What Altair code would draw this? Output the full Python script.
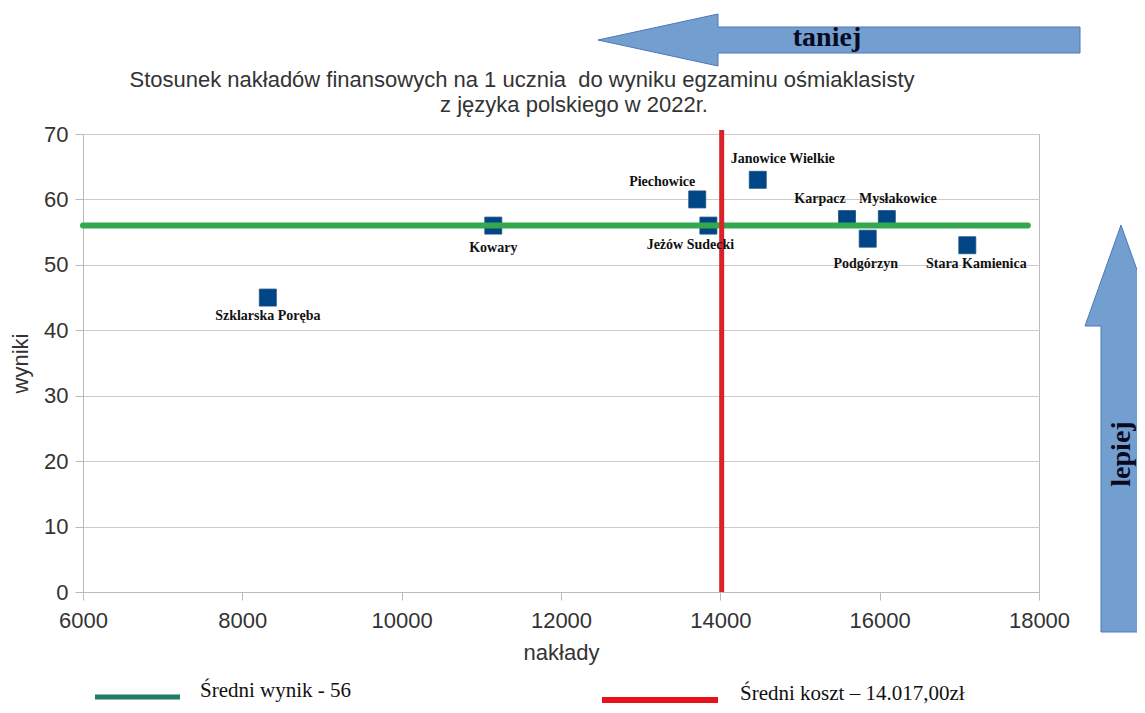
import altair as alt
import pandas as pd

# ---- data ----
gminy = ["Szklarska Poręba", "Kowary", "Piechowice", "Jeżów Sudecki", "Janowice Wielkie",
         "Karpacz", "Mysłakowice", "Podgórzyn", "Stara Kamienica"]
naklady = [8320, 11150, 13710, 13850, 14470, 15590, 16090, 15850, 17100]
wyniki = [45, 56, 60, 56, 63, 57, 57, 54, 53]

sredni_wynik = 56
sredni_koszt = 14017
x_ticks = [6000, 8000, 10000, 12000, 14000, 16000, 18000]
y_ticks = [0, 10, 20, 30, 40, 50, 60, 70]

title_lines = ["Stosunek nakładów finansowych na 1 ucznia\u00a0 do wyniku egzaminu ośmiaklasisty",
               "z języka polskiego w 2022r."]
legend_texts = ["Średni wynik - 56", "Średni koszt – 14.017,00zł"]

df = pd.DataFrame({"gmina": gminy, "naklady": naklady, "wyniki": wyniki})

# ---- layout / style (not data) ----
label_offsets = {
    "Szklarska Poręba": (0, 18), "Kowary": (0, 22), "Piechowice": (-35, -17),
    "Jeżów Sudecki": (-18, 19), "Janowice Wielkie": (25, -21), "Karpacz": (-27, -20),
    "Mysłakowice": (11, -20), "Podgórzyn": (-2, 25), "Stara Kamienica": (9, 19),
}
PW, PH = 956, 458
sans = "Liberation Sans"
serif = "Liberation Serif"
FS = 22

xscale = alt.Scale(domain=[6000, 18000], nice=False, zero=False)
yscale = alt.Scale(domain=[0, 70], nice=False)

xenc = alt.X("naklady:Q", scale=xscale,
             axis=alt.Axis(title="nakłady", values=x_ticks, grid=False, format="d",
                           labelFontSize=FS, labelFont=sans, labelColor="#333",
                           titleFontSize=FS, titleFont=sans, titleColor="#333",
                           titleFontWeight="normal", titlePadding=11,
                           domainColor="#bbb", tickColor="#bbb", tickSize=8,
                           labelPadding=10, labelFlush=False))
yenc = alt.Y("wyniki:Q", scale=yscale,
             axis=alt.Axis(title="wyniki", values=y_ticks, grid=True, gridColor="#cccccc",
                           labelFontSize=FS, labelFont=sans, labelColor="#333",
                           titleFontSize=FS, titleFont=sans, titleColor="#333",
                           titleFontWeight="normal", titlePadding=11,
                           domainColor="#bbb", tickColor="#bbb", tickSize=8,
                           labelPadding=7))

base = alt.Chart(df)

green = alt.Chart(pd.DataFrame({"x": [6000], "x2": [17860], "y": [sredni_wynik]})).mark_rule(
    color="#33a84e", strokeWidth=6, strokeCap="round").encode(
    x=alt.X("x:Q", scale=xscale), x2="x2:Q", y=alt.Y("y:Q", scale=yscale))

red = alt.Chart(pd.DataFrame({"x": [sredni_koszt], "y": [0], "y2": [70.6]})).mark_rule(
    color="#d9232a", strokeWidth=5, clip=False).encode(
    x=alt.X("x:Q", scale=xscale), y=alt.Y("y:Q", scale=yscale), y2="y2:Q")

points = base.mark_square(size=289, color="#004586", opacity=1, stroke="#1f4f80",
                          strokeWidth=0.8).encode(x=xenc, y=yenc)

label_layers = []
for g in gminy:
    dx, dy = label_offsets[g]
    label_layers.append(
        alt.Chart(df).transform_filter(alt.datum.gmina == g).mark_text(
            font=serif, fontSize=14, fontWeight="bold", color="#111",
            align="center", baseline="middle", dx=dx, dy=dy).encode(
            x=alt.X("naklady:Q", scale=xscale), y=alt.Y("wyniki:Q", scale=yscale),
            text="gmina:N"))

def one(txt):
    return alt.Chart(pd.DataFrame({"t": [txt]}))

titles = [
    one(title_lines[0]).mark_text(font=sans, fontSize=FS, color="#333", align="center",
                                  baseline="middle").encode(
        text="t:N", x=alt.value(439), y=alt.value(-54)),
    one(title_lines[1]).mark_text(font=sans, fontSize=FS, color="#333", align="center",
                                  baseline="middle").encode(
        text="t:N", x=alt.value(491), y=alt.value(-29)),
]

arrow_h = "M0,0 L120,-26 L120,-13 L482,-13 L482,13 L120,13 L120,26 Z"
arrow_v = "M0,0 L36,101 L20,101 L20,407 L-20,407 L-20,101 L-36,101 Z"
arrows = [
    one("a").mark_point(shape=arrow_h, size=4, filled=True, fill="#729fcf",
                        stroke="#4a78b8", strokeWidth=1, opacity=1).encode(
        x=alt.value(515), y=alt.value(-94)),
    one("b").mark_point(shape=arrow_v, size=4, filled=True, fill="#729fcf",
                        stroke="#4a78b8", strokeWidth=1, opacity=1).encode(
        x=alt.value(1038), y=alt.value(91)),
    one("taniej").mark_text(font=serif, fontSize=28, fontWeight="bold", color="#0a0a1e",
                            align="center", baseline="middle").encode(
        text="t:N", x=alt.value(744), y=alt.value(-96)),
    one("lepiej").mark_text(font=serif, fontSize=28, fontWeight="bold", color="#0a0a1e",
                            align="center", baseline="middle", angle=270).encode(
        text="t:N", x=alt.value(1039), y=alt.value(320)),
]

legend = [
    one("g").mark_rule(color="#1f7d66", strokeWidth=5).encode(
        x=alt.value(12), x2=alt.value(97), y=alt.value(563)),
    one(legend_texts[0]).mark_text(font=serif, fontSize=21, color="#111", align="left",
                                   baseline="middle").encode(
        text="t:N", x=alt.value(117), y=alt.value(557)),
    one("r").mark_rule(color="#e8101a", strokeWidth=6).encode(
        x=alt.value(519), x2=alt.value(635), y=alt.value(566)),
    one(legend_texts[1]).mark_text(font=serif, fontSize=21, color="#111", align="left",
                                   baseline="middle").encode(
        text="t:N", x=alt.value(657), y=alt.value(560)),
]

chart = alt.layer(points, green, red, *label_layers, *titles, *arrows, *legend).properties(
    width=PW, height=PH,
    autosize=alt.AutoSizeParams(type="none"),
    padding={"left": 75, "top": 126, "right": 98, "bottom": 113},
    background="white",
).configure_view(stroke="#bbbbbb", strokeWidth=1)

chart.save("out.html", embed_options={"renderer": "svg", "actions": False})
